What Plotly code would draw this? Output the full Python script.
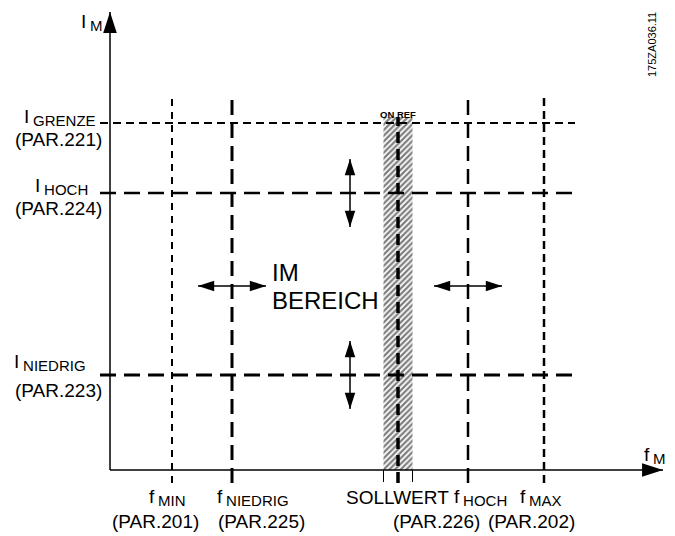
import plotly.graph_objects as go

# ---------------- data (diagram units: origin at axis crossing) ----------------
f_names = ["f<sub>MIN</sub>", "f<sub>NIEDRIG</sub>", "SOLLWERT", "f<sub>HOCH</sub>", "f<sub>MAX</sub>"]
f_params = ["(PAR.201)", "(PAR.225)", "", "(PAR.226)", "(PAR.202)"]
f_values = [62, 122, 288, 358, 434]

i_names = ["I<sub>GRENZE</sub>", "I<sub>HOCH</sub>", "I<sub>NIEDRIG</sub>"]
i_params = ["(PAR.221)", "(PAR.224)", "(PAR.223)"]
i_values = [347, 277, 95]

band_halfwidth = 14.5        # ON REF band around SOLLWERT
band_top = 353
axis_x_max = 553
axis_y_max = 458

# ---------------- styles / layout helpers ----------------
FONT = "Liberation Sans, Arial, sans-serif"
f_styles = [(2, "7px,6px"), (3, "15px,8px"), (3.5, "11px,6px"), (2.5, "15px,8px"), (2.5, "8px,5px")]
i_styles = [(2, "8px,5px"), (2.5, "16px,8px"), (3, "16px,8px")]
v_line_range = (-13, 377)
h_line_range = (-10, 465)

fig = go.Figure()

def line(x, y, width=1.5, dash="solid"):
    fig.add_trace(go.Scatter(x=x, y=y, mode="lines", hoverinfo="skip",
                             line=dict(color="black", width=width, dash=dash)))

def heads(x, y, angles, size):
    fig.add_trace(go.Scatter(x=x, y=y, mode="markers", hoverinfo="skip",
                             marker=dict(symbol="arrow", size=size, angle=angles,
                                         color="black", line=dict(width=0))))

def subfmt(t):
    # subscripts drawn as a smaller span (reference subscripts are large and barely lowered)
    return (t.replace("<sub>", "\u2009<span style='font-size:15px;baseline-shift:-3px'>")
             .replace("</sub>", "</span>"))

# hatched ON REF band
s = f_values[2]
fig.add_trace(go.Scatter(
    x=[s - band_halfwidth, s + band_halfwidth, s + band_halfwidth, s - band_halfwidth, s - band_halfwidth],
    y=[0, 0, band_top, band_top, 0], mode="lines", fill="toself", hoverinfo="skip",
    line=dict(width=0, color="rgba(0,0,0,0)"), fillcolor="white",
    fillpattern=dict(shape="/", fgcolor="black", bgcolor="white", size=4, solidity=0.55)))

# axes
line([0, 0], [0, axis_y_max])
line([0, axis_x_max], [0, 0])
heads([0, axis_x_max], [axis_y_max, 0], [0, 90], 22)

# horizontal current limits
for v, (w, d) in zip(i_values, i_styles):
    line(list(h_line_range), [v, v], w, d)

# vertical frequency limits
for i, (v, (w, d)) in enumerate(zip(f_values, f_styles)):
    top = band_top if i == 2 else v_line_range[1]
    line([v, v], [v_line_range[0], top], w, d)

# band edge ticks
for xe in (s - band_halfwidth, s + band_halfwidth):
    line([xe, xe], [-12, 0], 1)

# adjustment double arrows
for yv in (i_values[1], i_values[2]):
    line([240, 240], [yv - 34, yv + 34], 1.5)
    heads([240, 240], [yv + 34, yv - 34], [0, 180], 17)
for xv in (f_values[1], f_values[3]):
    line([xv - 34, xv + 34], [184, 184], 1.5)
    heads([xv - 34, xv + 34], [184, 184], [-90, 90], 17)

# ---------------- text ----------------
def txt(x, y, t, size=18, xanchor="center", yanchor="middle", **kw):
    fig.add_annotation(x=x, y=y, text=subfmt(t), showarrow=False, xanchor=xanchor, yanchor=yanchor,
                       font=dict(family=FONT, size=size, color="black"), **kw)

f_name_x = [37, 105, 287, 342, 408]
f_name_anchor = ["left", "left", "center", "left", "left"]
f_param_x = [45, 151, None, 326, 421]
for n, p, xn, an, xp in zip(f_names, f_params, f_name_x, f_name_anchor, f_param_x):
    txt(xn, -27, n, xanchor=an, size=19)
    if p:
        txt(xp, -51, p, size=19)

i_name_x = [-12, -20, -22]
i_name_y = [353, 284, 108]
i_param_y = [331, 262, 80]
for n, p, xn, yn, yp in zip(i_names, i_params, i_name_x, i_name_y, i_param_y):
    txt(xn, yn, n, xanchor="right", size=19)
    txt(-6, yp, p, xanchor="right", size=19)

txt(-31, 448, "I<sub>M</sub>", xanchor="left", size=19)
txt(532, 15, "f<sub>M</sub>", xanchor="left", size=19)
txt(160, 198, "IM", size=24, xanchor="left")
txt(160, 170, "BEREICH", size=24, xanchor="left")
txt(s, 356, "<b>ON REF</b>", size=9.5)
txt(542, 425, "175ZA036.11", size=11, textangle=-90)

# the page body adds an 8px offset, so the ranges are shifted by 8 units
fig.update_layout(
    width=675, height=536, margin=dict(l=0, r=0, t=0, b=0),
    paper_bgcolor="white", plot_bgcolor="white", showlegend=False,
    xaxis=dict(range=[-102, 573], visible=False, fixedrange=True),
    yaxis=dict(range=[-74, 462], visible=False, fixedrange=True),
)
fig.write_html("out.html")
